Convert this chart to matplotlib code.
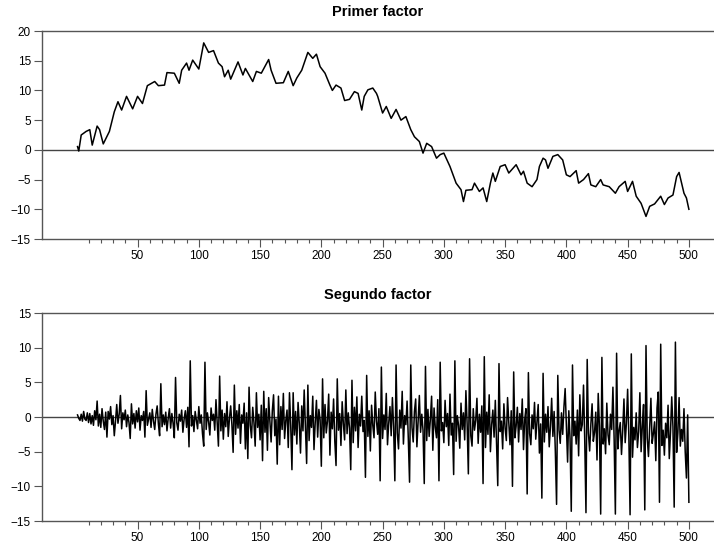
import matplotlib
matplotlib.use("Agg")
import matplotlib.pyplot as plt
from matplotlib.ticker import FixedLocator

plt.rcParams["font.family"] = ["Liberation Sans", "DejaVu Sans"]

# first factor: observation index and value at its turning points
f1_t = [1, 2, 4, 8, 11, 13, 17, 19, 22, 27, 31, 34, 37, 41, 46, 50, 54, 58, 64, 67,
        72, 74, 80, 84, 86, 90, 92, 95, 100, 104, 108, 112, 116, 119, 121, 124, 126,
        132, 136, 138, 144, 147, 151, 157, 159, 163, 169, 173, 177, 180, 184, 187,
        189, 193, 196, 199, 203, 207, 209, 212, 216, 219, 223, 227, 230, 233, 235,
        238, 242, 245, 246, 250, 253, 257, 261, 265, 269, 273, 276, 280, 283, 286,
        290, 294, 297, 300, 305, 310, 314, 316, 318, 323, 325, 329, 332, 335, 338,
        340, 342, 346, 350, 353, 359, 363, 365, 368, 372, 376, 378, 381, 383, 385,
        389, 393, 397, 400, 403, 408, 410, 414, 418, 420, 424, 428, 430, 435, 440,
        443, 448, 450, 454, 457, 461, 465, 468, 472, 477, 480, 483, 487, 490, 492,
        496, 498, 500]
f1_v = [0.55, -0.2, 2.5, 3.1, 3.4, 0.8, 4.0, 3.4, 1.0, 3.1, 6.4, 8.1, 6.7, 9.0, 6.9,
        9.0, 7.8, 10.8, 11.5, 10.8, 10.9, 13.0, 12.9, 11.2, 13.4, 14.6, 13.4, 15.1,
        13.6, 18.0, 16.4, 16.7, 14.6, 14.0, 12.3, 13.4, 11.9, 14.8, 12.6, 13.7,
        11.5, 13.2, 12.9, 15.2, 13.4, 11.2, 11.3, 13.2, 10.8, 12.1, 13.4, 15.2,
        16.4, 15.4, 16.1, 14.0, 12.9, 10.9, 10.0, 10.9, 10.4, 8.3, 8.5, 9.8, 9.5,
        6.7, 9.0, 10.1, 10.4, 9.5, 9.0, 6.2, 7.3, 5.3, 6.8, 5.0, 5.6, 3.4, 2.2, 1.4,
        -0.55, 1.1, 0.55, -1.4, -0.8, -0.55, -2.8, -5.6, -6.7, -8.7, -6.8, -6.7,
        -5.6, -7.0, -6.4, -8.7, -5.6, -3.9, -5.3, -2.8, -2.5, -3.9, -2.5, -4.2,
        -3.6, -5.6, -6.2, -5.0, -2.8, -1.4, -1.7, -3.1, -1.1, -0.8, -1.7, -4.2,
        -4.5, -3.5, -5.6, -5.0, -4.0, -5.9, -6.2, -5.0, -5.9, -6.2, -7.3, -6.2,
        -5.3, -7.0, -5.3, -7.8, -9.0, -11.2, -9.5, -9.1, -7.8, -9.2, -8.1, -7.6,
        -4.5, -3.8, -7.3, -8.1, -10.0]

# second factor: one value per observation, twelve per row
f2_v = [
    0.3, -0.2, -0.5, 0.4, -0.6, 0.8, -0.3, -0.5, 0.6, -0.8, 0.5, -1.0,
    0.2, -1.2, 0.9, -0.4, 2.3, -1.3, 0.4, -1.5, 1.2, -0.6, -1.8, 0.7,
    -2.9, 0.8, -0.3, 1.5, -1.1, 0.2, -2.7, -0.6, 1.8, -0.9, 0.4, 3.1,
    -1.7, 0.6, -0.4, 1.0, -1.4, 0.3, -0.8, -3.1, 1.9, -1.0, 0.5, -1.6,
    0.9, -0.7, 1.3, -1.9, 0.2, -0.5, 0.8, -2.9, 3.8, -1.2, -0.3, 0.6,
    -1.5, 1.1, -0.6, -1.8, 0.4, 1.6, -1.0, -2.7, 4.8, -1.4, 0.3, -1.1,
    0.7, -2.0, -0.2, 1.2, -1.6, 0.5, -0.9, -3.0, 5.7, -0.8, -1.9, 0.4,
    -0.6, 1.0, -2.2, -0.3, 0.9, -1.5, 1.4, -4.3, 8.1, -1.3, 0.2, -2.1,
    0.8, -0.4, -1.7, 1.5, -0.9, 0.3, -2.4, -4.2, 7.9, -1.8, 0.6, -0.7,
    -2.6, 1.3, -0.5, 0.4, -1.9, 2.5, -0.8, -4.2, 5.9, -2.0, 1.0, -3.2,
    0.5, -1.4, 2.2, -2.8, -0.2, 1.6, -1.1, -5.1, 4.6, -2.5, 0.9, -1.6,
    1.8, -3.8, 0.3, -0.9, 2.0, -4.6, 0.6, -6.0, 4.3, -1.2, -3.0, 1.4,
    -0.8, -4.2, 3.5, -1.5, 0.4, -3.3, 1.7, -6.3, 3.7, -2.2, 1.2, -4.8,
    2.8, -0.6, -3.6, 0.9, 3.2, -2.7, -0.3, -6.8, 3.0, -4.0, 1.5, -1.8,
    3.4, -3.1, -0.5, 1.0, -4.4, 3.5, -1.2, -7.6, 3.5, -2.6, 0.8, -3.9,
    2.1, -0.9, -5.2, 1.6, -2.0, 3.9, -1.4, -6.7, 4.6, -3.4, 0.2, -1.5,
    3.0, -4.7, -0.8, 2.4, -2.9, 1.1, -0.4, -7.1, 5.5, -3.0, 1.8, -2.3,
    -0.6, 3.3, -5.5, 0.7, -1.7, 2.6, -3.5, -7.0, 5.5, -1.9, 0.5, -4.1,
    2.2, -1.0, -3.3, 3.9, -2.4, 0.6, -1.6, -7.6, 5.3, -3.7, 1.4, -2.0,
    2.9, -4.4, 0.4, -1.3, 3.0, -2.1, -0.5, -8.7, 6.0, -2.8, 0.9, -4.9,
    1.7, -1.2, -3.0, 3.6, -0.6, -2.5, 1.2, -9.2, 7.2, -3.1, 0.3, -1.8,
    3.4, -4.0, -0.9, 1.5, -2.7, 2.8, -1.4, -9.2, 7.5, -2.3, -4.6, 1.0,
    -1.6, 3.7, -3.9, 0.2, -1.1, 2.3, -3.2, -9.4, 7.5, -1.5, -3.6, 0.8,
    2.6, -4.3, -0.7, 3.1, -2.2, 0.4, -1.9, -9.6, 7.3, -3.4, 1.1, -2.8,
    -0.3, 3.0, -4.8, 1.3, -1.5, -3.0, 2.5, -9.2, 7.9, -2.0, -0.8, -3.7,
    2.4, -1.4, 0.5, -4.1, 3.3, -2.6, -0.9, -8.3, 8.1, -3.5, 0.2, -1.2,
    -4.5, 2.0, -1.8, 0.6, -3.3, 3.8, -1.0, -8.2, 8.4, -2.7, -4.2, 1.2,
    -1.9, -0.5, 2.7, -3.8, 0.4, -2.2, 1.6, -9.6, 8.7, -4.4, 0.7, -2.5,
    3.2, -5.0, -1.1, 1.0, -2.9, 2.4, -3.7, -9.9, 7.7, -2.1, -0.6, -4.6,
    1.9, -1.6, -3.4, 2.8, -0.8, -4.0, 0.9, -10.0, 6.5, -3.0, -1.3, 1.4,
    -3.6, 0.5, -1.8, 2.6, -4.7, -0.4, 1.2, -11.1, 6.4, -2.4, -4.0, 0.3,
    -1.7, 2.1, -3.2, -0.6, 1.8, -5.2, -1.0, -11.7, 6.3, -3.6, 0.4, -2.2,
    1.5, -4.3, -1.4, 2.7, -2.8, 0.8, -5.0, -12.6, 6.0, -1.9, -3.8, 0.6,
    -2.5, 1.4, 4.1, -1.2, -6.5, 0.9, -3.1, -13.6, 7.5, -2.7, -0.6, -3.9,
    1.0, -5.6, 3.2, -2.0, -1.1, 4.6, -3.4, -13.8, 8.3, -2.3, -4.9, -1.0,
    1.9, -3.5, -2.2, 0.7, -6.2, 3.4, -1.5, -14.0, 8.6, -3.9, -1.7, -5.3,
    2.0, -2.6, -4.0, 0.4, -1.8, 4.3, -3.3, -14.0, 9.2, -4.6, -2.0, -0.8,
    -5.4, -1.9, 2.6, -3.7, -0.9, 4.0, -2.8, -14.1, 9.1, -5.8, -1.5, -3.3,
    0.6, -4.4, -2.1, 3.5, -5.0, -1.3, 1.8, -13.4, 10.3, -3.0, -5.7, -1.6,
    2.7, -3.8, -2.4, -0.7, -6.3, 1.3, 3.6, -12.3, 10.5, -4.1, -1.9, -5.5,
    -0.9, -3.0, 1.7, -6.0, -2.2, 2.9, -1.4, -13.0, 10.8, -5.1, -2.3, 2.8,
    -4.2, -1.8, -3.5, 1.2, -5.0, -8.8, 0.3, -12.3,
]
f2_t = list(range(1, len(f2_v) + 1))

titles = ["Primer factor", "Segundo factor"]
y_ticks = [[-15, -10, -5, 0, 5, 10, 15, 20], [-15, -10, -5, 0, 5, 10, 15]]
x_major = [50, 100, 150, 200, 250, 300, 350, 400, 450, 500]
x_minor = [m for m in range(10, 501, 10) if m % 50]

W, H = 714, 548
fig = plt.figure(figsize=(W / 100, H / 100), dpi=100)

# axes boxes in pixels: left, top, bottom, title gap
boxes = [(42, 31, 239, 11), (42, 313, 521, 10)]
series = [(f1_t, f1_v), (f2_t, f2_v)]
spine_col = "#555555"

for (left, top, bottom, gap), (t, v), title, yt in zip(boxes, series, titles, y_ticks):
    ax = fig.add_axes([left / W, (H - bottom) / H, 1 - left / W, (bottom - top) / H])
    ax.axhline(0, color="#444444", lw=1.0, zorder=1)
    ax.plot(t, v, color="black", lw=1.1, zorder=2)
    ax.set_xlim(-28, 520.5)
    ax.set_ylim(yt[0], yt[-1])
    ax.set_yticks(yt)
    ax.set_xticks(x_major)
    ax.xaxis.set_minor_locator(FixedLocator(x_minor))
    ax.spines["right"].set_visible(False)
    for s in ("left", "top", "bottom"):
        ax.spines[s].set_color(spine_col)
        ax.spines[s].set_linewidth(1.0)
    ax.tick_params(axis="both", which="major", direction="out", length=6,
                   width=0.8, color=spine_col, labelsize=8.5, pad=2)
    ax.tick_params(axis="x", which="minor", direction="out", length=3,
                   width=0.8, color=spine_col)
    ax.set_title(title, fontsize=10.5, fontweight="bold", pad=gap)

fig.savefig("out.png", dpi=100)
